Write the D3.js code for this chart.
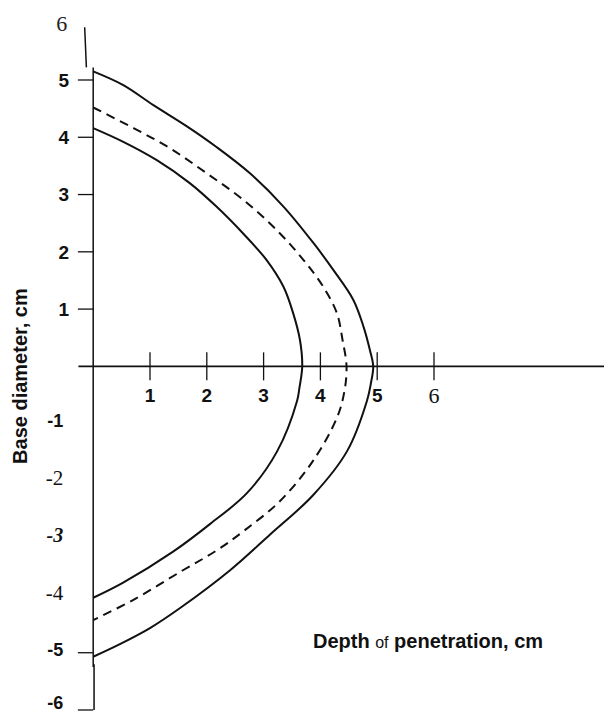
<!DOCTYPE html>
<html>
<head>
<meta charset="utf-8">
<script src="https://cdn.jsdelivr.net/npm/d3@7"></script>
<style>
  html, body { margin: 0; padding: 0; background: #fff; }
  svg { display: block; }
</style>
</head>
<body>
<svg id="chart" width="604" height="712"></svg>
<script>
// ---- Data ----
const outerDepth = [0, 0.53, 1.06, 1.65, 2.17, 2.76, 3.35, 3.88, 4.23, 4.58, 4.76, 4.87, 4.93, 4.89, 4.82, 4.47, 3.87, 3.11, 2.41, 1.53, 1.00, 0.47, 0];
const outerDiam  = [5.15, 4.91, 4.56, 4.19, 3.83, 3.37, 2.79, 2.15, 1.68, 1.16, 0.69, 0.29, 0, -0.29, -0.60, -1.48, -2.25, -2.94, -3.56, -4.22, -4.57, -4.85, -5.07];

const meanDepth = [0, 0.71, 1.35, 2.00, 2.64, 3.23, 3.70, 4.05, 4.29, 4.39, 4.46, 4.42, 4.29, 3.87, 3.29, 2.67, 2.18, 1.58, 0.70, 0];
const meanDiam  = [4.52, 4.16, 3.81, 3.37, 2.91, 2.38, 1.86, 1.39, 0.93, 0.46, 0, -0.45, -0.90, -1.65, -2.35, -2.86, -3.21, -3.56, -4.08, -4.43];

const innerDepth = [0, 0.53, 1.12, 1.70, 2.17, 2.64, 3.05, 3.35, 3.52, 3.64, 3.68, 3.63, 3.59, 3.24, 2.71, 2.06, 1.40, 0.52, 0];
const innerDiam  = [4.16, 3.92, 3.60, 3.20, 2.79, 2.32, 1.86, 1.39, 0.93, 0.46, 0, -0.38, -0.60, -1.48, -2.21, -2.75, -3.24, -3.78, -4.04];

const xTicks = [1, 2, 3, 4, 5, 6];
const xTickLabels = ["1", "2", "3", "4", "5", "6"];
const yTicksPos = [1, 2, 3, 4, 5];
const yTickLabelsPos = ["1", "2", "3", "4", "5"];
const yTicksNeg = [-1, -2, -3, -4, -5, -6];
const yTickLabelsNeg = ["-1", "-2", "-3", "-4", "-5", "-6"];
const yTickMarks = [1, 2, 3, 4, 5, -5, -6];
const xTitle = ["Depth", "of", "penetration, cm"];
const yTitle = "Base diameter, cm";

// ---- Styles ----
const SANS = "'Liberation Sans', Arial, Helvetica, sans-serif";
const SERIF = "'Liberation Serif', 'Times New Roman', serif";
const negStyle = {
  "-1": {f: SANS, w: "bold", s: "normal", size: 18},
  "-2": {f: SERIF, w: "normal", s: "normal", size: 21},
  "-3": {f: SERIF, w: "bold", s: "italic", size: 20},
  "-4": {f: SERIF, w: "normal", s: "normal", size: 21},
  "-5": {f: SANS, w: "bold", s: "normal", size: 18},
  "-6": {f: SANS, w: "bold", s: "normal", size: 18}
};
const xStyle = {
  "6": {f: SERIF, w: "normal", size: 22}
};

// ---- Scales ----
const W = 604, H = 712;
const x = d3.scaleLinear().domain([0, 6]).range([93.2, 434]);
const y = d3.scaleLinear().domain([-6, 5]).range([710, 80]);

const svg = d3.select("#chart");

// Axes lines
const axisG = svg.append("g").attr("stroke", "#111").attr("fill", "none");
axisG.append("line")
  .attr("x1", x(-0.26)).attr("x2", x.invert ? W : W)
  .attr("y1", y(0)).attr("y2", y(0))
  .attr("stroke-width", 1.6);
// y axis (with the slightly offset top stroke seen in the scan)
axisG.append("path")
  .attr("d", `M${x(-0.15)},${y(5.92)} L${x(-0.12)},${y(5.22)} M${x(0)},${y(5.22)} L${x(0)},${y(-5.25)} M${x(0.015)},${y(-5.2)} L${x(0.015)},${y(-6)}`)
  .attr("stroke-width", 1.5);

// y tick marks
axisG.selectAll("line.yt").data(yTickMarks).join("line")
  .attr("class", "yt")
  .attr("x1", x(-0.27)).attr("x2", x(0))
  .attr("y1", d => y(d)).attr("y2", d => y(d))
  .attr("stroke-width", 1.3);

// x tick marks
axisG.selectAll("line.xt").data(xTicks).join("line")
  .attr("class", "xt")
  .attr("x1", d => x(d)).attr("x2", d => x(d))
  .attr("y1", y(0) - 14).attr("y2", y(0) + 14)
  .attr("stroke-width", 1.3);

// Curves
const line = d3.line().x(d => x(d[0])).y(d => y(d[1])).curve(d3.curveCatmullRom.alpha(0.5));
const curves = [
  {dx: outerDepth, dy: outerDiam, dash: null},
  {dx: meanDepth, dy: meanDiam, dash: "9,6"},
  {dx: innerDepth, dy: innerDiam, dash: null}
];
svg.append("g").selectAll("path").data(curves).join("path")
  .attr("d", c => line(c.dx.map((v, i) => [v, c.dy[i]])))
  .attr("fill", "none")
  .attr("stroke", "#111")
  .attr("stroke-width", 2)
  .attr("stroke-linejoin", "round")
  .attr("stroke-dasharray", c => c.dash);

// y tick labels (positive)
svg.append("g").selectAll("text").data(yTicksPos).join("text")
  .attr("x", x(0) - 24)
  .attr("y", d => y(d))
  .attr("dy", "0.36em")
  .attr("text-anchor", "end")
  .attr("font-family", SANS)
  .attr("font-weight", "bold")
  .attr("font-size", 19)
  .attr("fill", "#111")
  .text((d, i) => yTickLabelsPos[i]);

// top "6"
svg.append("text")
  .attr("x", x(0) - 26)
  .attr("y", y(6))
  .attr("dy", "0.36em")
  .attr("text-anchor", "end")
  .attr("font-family", SERIF)
  .attr("font-size", 22)
  .attr("fill", "#222")
  .text("6");

// y tick labels (negative)
svg.append("g").selectAll("text").data(yTicksNeg).join("text")
  .attr("x", x(0) - 30)
  .attr("y", d => Math.min(y(d) - 3, H - 9))
  .attr("dy", "0.36em")
  .attr("text-anchor", "end")
  .attr("font-family", (d, i) => negStyle[yTickLabelsNeg[i]].f)
  .attr("font-weight", (d, i) => negStyle[yTickLabelsNeg[i]].w)
  .attr("font-style", (d, i) => negStyle[yTickLabelsNeg[i]].s)
  .attr("font-size", (d, i) => negStyle[yTickLabelsNeg[i]].size)
  .attr("fill", "#111")
  .text((d, i) => yTickLabelsNeg[i]);

// x tick labels
svg.append("g").selectAll("text").data(xTicks).join("text")
  .attr("x", d => x(d))
  .attr("y", y(0) + 29)
  .attr("dy", "0.36em")
  .attr("text-anchor", "middle")
  .attr("font-family", (d, i) => (xStyle[xTickLabels[i]] || {f: SANS}).f)
  .attr("font-weight", (d, i) => (xStyle[xTickLabels[i]] || {w: "bold"}).w)
  .attr("font-size", (d, i) => (xStyle[xTickLabels[i]] || {size: 19}).size)
  .attr("fill", "#111")
  .text((d, i) => xTickLabels[i]);

// x title
const xt = svg.append("text")
  .attr("x", 313)
  .attr("y", 648)
  .attr("font-family", SANS)
  .attr("font-weight", "bold")
  .attr("font-size", 20)
  .attr("fill", "#111");
xt.append("tspan").text(xTitle[0] + " ");
xt.append("tspan").attr("font-size", 16).attr("font-weight", "normal").text(xTitle[1]);
xt.append("tspan").text(" " + xTitle[2]);

// y title
svg.append("text")
  .attr("transform", `translate(27,${y(-0.17)}) rotate(-90)`)
  .attr("text-anchor", "middle")
  .attr("font-family", SANS)
  .attr("font-weight", "bold")
  .attr("font-size", 20)
  .attr("fill", "#111")
  .text(yTitle);
</script>
</body>
</html>
